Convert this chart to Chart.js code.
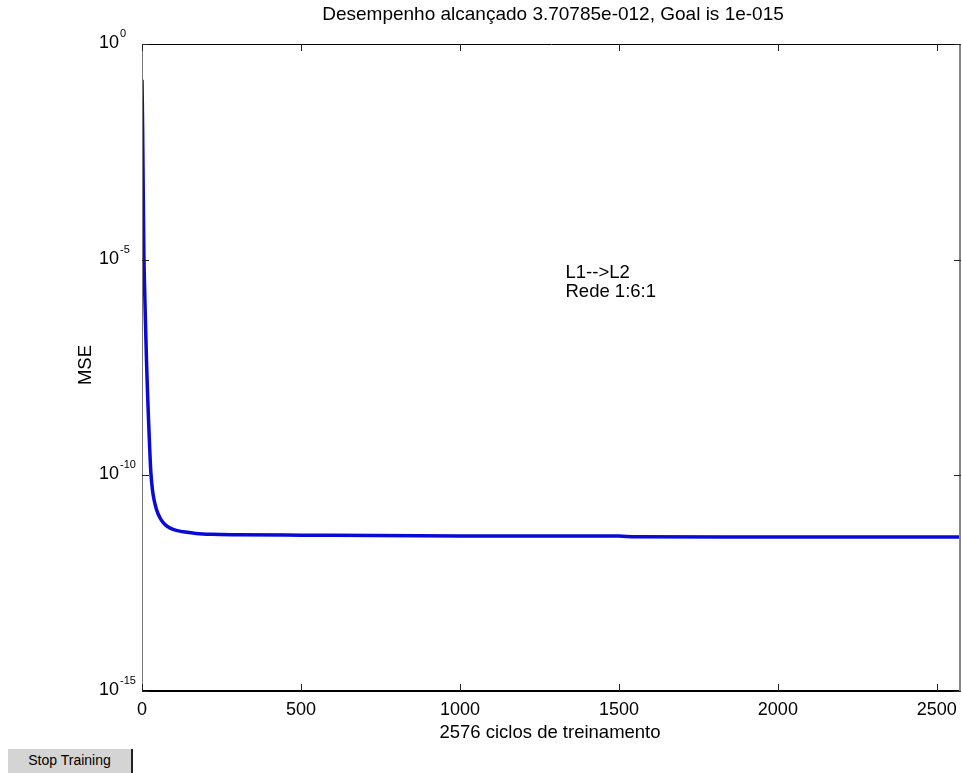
<!DOCTYPE html>
<html>
<head>
<meta charset="utf-8">
<script src="https://cdn.jsdelivr.net/npm/chart.js@4/dist/chart.umd.min.js"></script>
<style>
  html, body { margin: 0; padding: 0; background: #fff; }
  #wrap { position: relative; width: 962px; height: 773px; }
  #btn {
    position: absolute; left: 8px; top: 749px; width: 125px; height: 24px;
    background: #d4d4d4; border-right: 2px solid #222; box-sizing: border-box;
    font: 14px "Liberation Sans", Arial, sans-serif; color: #000;
    text-align: center; line-height: 22px;
  }
</style>
</head>
<body>
<div id="wrap">
  <canvas id="c" width="962" height="773"></canvas>
  <div id="btn">Stop Training</div>
</div>
<script>
// ---- data ----
const titleText = 'Desempenho alcançado 3.70785e-012, Goal is 1e-015';
const xTitle = '2576 ciclos de treinamento';
const yTitle = 'MSE';
const annotationLines = ['L1-->L2', 'Rede 1:6:1'];
const epochs = [0, 2, 4, 6, 8, 11, 14, 17, 20, 24, 28, 33, 39, 47, 56, 66, 80, 100, 130, 170, 220, 300, 500, 1000, 1500, 1550, 2000, 2576];
const mse = [0.148, 1.0e-2, 3.2e-4, 1.26e-5, 2.5e-6, 3.2e-7, 5.0e-8, 1.0e-8, 2.5e-9, 4.5e-10, 1.12e-10, 4.5e-11, 2.5e-11, 1.5e-11, 1.05e-11, 8.1e-12, 6.5e-12, 5.5e-12, 4.9e-12, 4.5e-12, 4.3e-12, 4.2e-12, 4.1e-12, 3.94e-12, 3.9e-12, 3.76e-12, 3.73e-12, 3.70785e-12];
const xTicks = [0, 500, 1000, 1500, 2000, 2500];
const yTickExponents = [0, -5, -10, -15];
const xMax = 2576;

const FONT = '"Liberation Sans", Arial, sans-serif';
const TXT = 18.5;

const points = epochs.map((e, i) => ({ x: e, y: mse[i] }));

const framePlugin = {
  id: 'frame',
  afterDraw(chart) {
    const ctx = chart.ctx;
    const a = chart.chartArea;
    const xs = chart.scales.x, ys = chart.scales.y;
    ctx.save();
    // box
    ctx.lineWidth = 1;
    ctx.strokeStyle = '#000';
    ctx.beginPath(); ctx.moveTo(a.left, a.top + 0.5); ctx.lineTo(a.right, a.top + 0.5); ctx.stroke();
    ctx.lineWidth = 2;
    ctx.beginPath(); ctx.moveTo(a.left, a.bottom); ctx.lineTo(a.right, a.bottom); ctx.stroke();
    ctx.lineWidth = 1;
    ctx.strokeStyle = '#777';
    ctx.beginPath(); ctx.moveTo(a.left + 0.5, a.top); ctx.lineTo(a.left + 0.5, a.bottom); ctx.stroke();
    ctx.lineWidth = 2;
    ctx.strokeStyle = '#888';
    ctx.beginPath(); ctx.moveTo(a.right - 1, a.top); ctx.lineTo(a.right - 1, a.bottom); ctx.stroke();
    // inward ticks
    ctx.lineWidth = 1;
    ctx.strokeStyle = '#222';
    const tl = 7;
    xTicks.forEach(v => {
      const px = Math.round(xs.getPixelForValue(v)) + 0.5;
      ctx.beginPath(); ctx.moveTo(px, a.bottom); ctx.lineTo(px, a.bottom - tl); ctx.stroke();
      ctx.beginPath(); ctx.moveTo(px, a.top); ctx.lineTo(px, a.top + tl); ctx.stroke();
    });
    yTickExponents.forEach(e => {
      const py = Math.round(ys.getPixelForValue(Math.pow(10, e))) + 0.5;
      ctx.beginPath(); ctx.moveTo(a.left, py); ctx.lineTo(a.left + tl, py); ctx.stroke();
      ctx.beginPath(); ctx.moveTo(a.right, py); ctx.lineTo(a.right - tl, py); ctx.stroke();
    });
    // y tick labels with superscripts
    ctx.fillStyle = '#000';
    yTickExponents.forEach(e => {
      const py = ys.getPixelForValue(Math.pow(10, e));
      ctx.font = '18px ' + FONT;
      ctx.textAlign = 'right';
      ctx.textBaseline = 'middle';
      ctx.fillText('10', 119, py - 1);
      ctx.font = '11px ' + FONT;
      ctx.textAlign = 'left';
      ctx.fillText(String(e), 120, py - 10);
    });
    // title
    ctx.font = '19px ' + FONT;
    ctx.textAlign = 'center';
    ctx.textBaseline = 'middle';
    ctx.fillText(titleText, 553, 15);
    // x title
    ctx.font = TXT + 'px ' + FONT;
    ctx.fillText(xTitle, 550, 733);
    // y title
    ctx.save();
    ctx.translate(86, 365);
    ctx.rotate(-Math.PI / 2);
    ctx.fillText(yTitle, 0, 0);
    ctx.restore();
    // annotation (data coordinates)
    ctx.textAlign = 'left';
    const ax = xs.getPixelForValue(1332);
    const ay = ys.getPixelForValue(5e-6);
    annotationLines.forEach((t, i) => ctx.fillText(t, ax, ay + i * 19));
    ctx.restore();
  }
};

new Chart(document.getElementById('c'), {
  type: 'line',
  data: {
    datasets: [{
      data: points,
      borderColor: '#0a0ad8',
      borderWidth: 3.5,
      pointRadius: 0,
      fill: false,
      cubicInterpolationMode: 'monotone'
    }]
  },
  options: {
    responsive: false,
    animation: false,
    events: [],
    layout: { padding: { top: 44, right: 1, left: 0, bottom: 0 } },
    plugins: { legend: { display: false }, title: { display: false }, tooltip: { enabled: false } },
    scales: {
      x: {
        type: 'linear', min: 0, max: xMax,
        grid: { display: false, drawTicks: false },
        border: { display: false },
        afterBuildTicks: s => { s.ticks = xTicks.map(v => ({ value: v })); },
        afterFit: s => { s.height = 82; s.paddingLeft = 0; s.paddingRight = 0; },
        ticks: { color: '#000', font: { size: 18, family: FONT }, padding: 8, maxRotation: 0, autoSkip: false,
                 callback: v => String(v) }
      },
      y: {
        type: 'logarithmic', min: 1e-15, max: 1,
        grid: { display: false, drawTicks: false },
        border: { display: false },
        afterBuildTicks: s => { s.ticks = yTickExponents.map(e => ({ value: Math.pow(10, e) })); },
        afterFit: s => { s.width = 142; s.paddingTop = 0; s.paddingBottom = 0; },
        ticks: { display: false }
      }
    }
  },
  plugins: [framePlugin]
});
</script>
</body>
</html>
